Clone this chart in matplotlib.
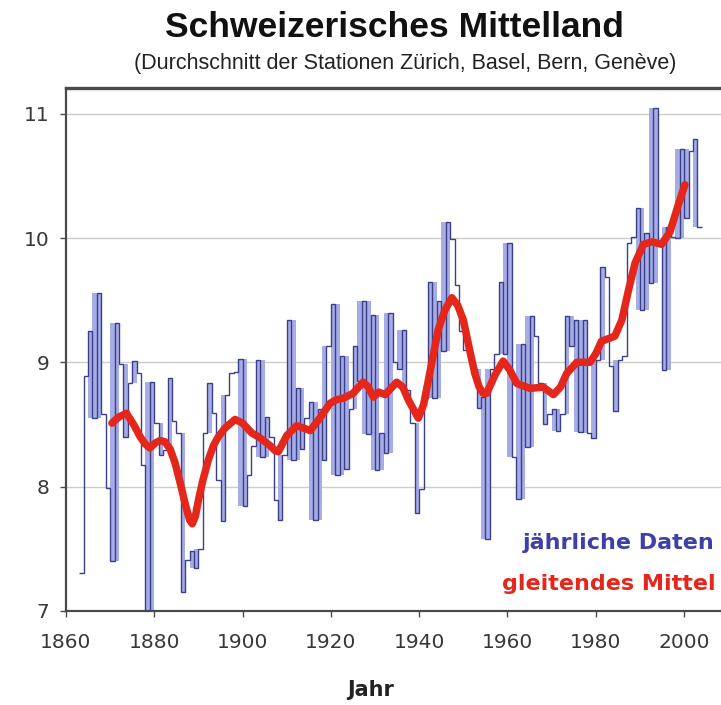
import numpy as np
import matplotlib
matplotlib.use("Agg")
import matplotlib.pyplot as plt

# ---- data -------------------------------------------------------------
years = list(range(1864, 2005))
annual = [
    7.30, 8.89, 9.25, 8.55, 9.56, 8.58, 7.99, 7.40, 9.32, 8.99,   # 1864-1873
    8.40, 8.83, 9.01, 8.91, 8.17, 6.95, 8.84, 8.51, 8.25, 8.29,   # 1874-1883
    8.87, 8.53, 8.43, 7.15, 7.41, 7.48, 7.34, 7.50, 8.43, 8.83,   # 1884-1893
    8.59, 8.05, 7.72, 8.74, 8.91, 8.92, 9.03, 7.84, 8.09, 8.33,   # 1894-1903
    9.02, 8.24, 8.56, 8.40, 7.89, 7.73, 8.25, 9.34, 8.21, 8.79,   # 1904-1913
    8.30, 8.55, 8.68, 7.73, 8.62, 8.21, 9.13, 9.47, 8.09, 9.05,   # 1914-1923
    8.14, 8.62, 9.13, 8.85, 9.49, 8.42, 9.38, 8.13, 8.43, 8.27,   # 1924-1933
    9.40, 9.00, 8.95, 9.26, 8.78, 8.51, 7.79, 7.98, 8.71, 9.65,   # 1934-1943
    8.71, 9.49, 9.09, 10.13, 9.99, 9.62, 9.25, 9.10, 9.05, 8.95,  # 1944-1953
    8.63, 8.72, 7.58, 8.95, 9.07, 9.65, 9.07, 9.96, 8.24, 7.90,   # 1954-1963
    9.15, 8.32, 9.37, 9.21, 8.83, 8.50, 8.58, 8.62, 8.45, 8.58,   # 1964-1973
    9.37, 9.13, 9.34, 8.44, 9.34, 8.43, 8.39, 9.02, 9.77, 9.69,   # 1974-1983
    8.97, 8.61, 9.02, 9.05, 9.96, 10.01, 10.24, 9.42, 10.04, 9.64, # 1984-1993
    11.05, 9.95, 8.94, 10.09, 10.01, 10.00, 10.72, 10.16, 10.70, 10.80,  # 1994-2003
    10.09,                                                          # 2004
]

smooth_x = [
    1870.4, 1872.0, 1873.7, 1875.3, 1876.8, 1878.0, 1879.0, 1880.2, 1881.3, 1882.4,
    1883.6, 1884.7, 1886.0, 1887.0, 1888.0, 1888.6, 1889.3, 1890.0, 1891.0, 1892.2,
    1893.4, 1894.5, 1896.0, 1898.3, 1900.0, 1902.1, 1903.6, 1905.1, 1906.2, 1907.3,
    1908.1, 1910.0, 1912.25, 1913.8, 1915.3, 1917.5, 1919.8, 1921.3, 1922.8, 1925.0,
    1927.3, 1928.5, 1929.6, 1930.8, 1932.3, 1934.9, 1936.3, 1937.5, 1939.8, 1941.0,
    1942.1, 1943.2, 1944.3, 1945.8, 1947.4, 1948.7, 1950.0, 1951.3, 1952.6, 1953.6,
    1954.5, 1955.3, 1957.2, 1959.0, 1960.5, 1962.1, 1965.1, 1968.1, 1970.4, 1972.0,
    1973.4, 1975.7, 1978.7, 1980.0, 1981.3, 1984.3, 1985.9, 1987.4, 1988.9, 1990.8,
    1992.7, 1994.9, 1996.8, 1998.7, 2000.2,
]
smooth_y = [
    8.51, 8.56, 8.59, 8.50, 8.40, 8.34, 8.31, 8.35, 8.37, 8.36,
    8.30, 8.19, 8.01, 7.86, 7.73, 7.70, 7.76, 7.89, 8.05, 8.21,
    8.33, 8.40, 8.47, 8.54, 8.51, 8.43, 8.40, 8.36, 8.33, 8.29,
    8.28, 8.41, 8.49, 8.47, 8.45, 8.55, 8.67, 8.70, 8.71, 8.75,
    8.84, 8.80, 8.72, 8.76, 8.74, 8.84, 8.80, 8.70, 8.55, 8.66,
    8.86, 9.06, 9.26, 9.42, 9.52, 9.46, 9.34, 9.12, 8.91, 8.80,
    8.75, 8.75, 8.90, 9.01, 8.94, 8.83, 8.79, 8.80, 8.74, 8.80,
    8.91, 9.00, 9.00, 9.07, 9.17, 9.21, 9.34, 9.58, 9.80, 9.95,
    9.97, 9.95, 10.05, 10.27, 10.43,
]

x_ticks = [1860, 1880, 1900, 1920, 1940, 1960, 1980, 2000]
y_ticks = [7, 8, 9, 10, 11]

title = "Schweizerisches Mittelland"
subtitle = "(Durchschnitt der Stationen Zürich, Basel, Bern, Genève)"
xlabel = "Jahr"
label_annual = "jährliche Daten"
label_smooth = "gleitendes Mittel"

# ---- styling ----------------------------------------------------------
NAVY = "#3a4088"
FILL = "#a6ace6"
RED = "#e4261b"
LEG_BLUE = "#3d40a6"
GRID = "#cccccc"
SPINE = "#4a4a4a"

W, H = 721, 705
fig = plt.figure(figsize=(W / 100, H / 100), dpi=100)
fig.patch.set_facecolor("white")

left_px, right_px, top_px, bottom_px = 66, 721, 88, 610.7
ax = fig.add_axes([left_px / W, (H - bottom_px) / H,
                   (right_px - left_px) / W, (bottom_px - top_px) / H])

px_per_year = 4.415
px_per_deg = 124.2
ax.set_xlim(1860, 1860 + (right_px - left_px) / px_per_year)
ax.set_ylim(7, 7 + (bottom_px - top_px) / px_per_deg)

# annual data as steps: value of year Y drawn on [Y-1, Y]
edges = np.array([years[0] - 1] + years, dtype=float)
vals = np.array(annual)
n = len(vals)
for i in range(1, n - 1):
    a, b, c = vals[i - 1], vals[i], vals[i + 1]
    if (b > a and b > c) or (b < a and b < c):
        far = a if abs(a - b) > abs(c - b) else c
        ax.fill_between([edges[i], edges[i + 1]], [b, b], [far, far],
                        color=FILL, lw=0, zorder=2)
ax.stairs(vals, edges, color=NAVY, lw=1.0, zorder=3, baseline=None)

# smoothed curve
ax.plot(smooth_x, smooth_y, color=RED, lw=5.4, solid_capstyle="round",
        solid_joinstyle="round", zorder=4)

# axes cosmetics
ax.set_yticks(y_ticks)
ax.set_xticks(x_ticks)
ax.yaxis.grid(True, color=GRID, lw=1.0, zorder=0)
ax.set_axisbelow(True)
for s in ("left", "top", "bottom"):
    ax.spines[s].set_color(SPINE)
ax.spines["left"].set_linewidth(1.6)
ax.spines["bottom"].set_linewidth(1.6)
ax.spines["top"].set_linewidth(2.4)
ax.spines["right"].set_visible(False)
ax.tick_params(axis="both", direction="out", length=4, width=1.0,
               color=SPINE, labelsize=14.5, labelcolor="#383838")
ax.tick_params(axis="x", pad=12)
ax.tick_params(axis="y", pad=8)
for lab in ax.get_xticklabels() + ax.get_yticklabels():
    lab.set_family("DejaVu Sans")

fig.text(371 / W, 1 - 690 / H, xlabel,
         ha="center", va="center", fontsize=15, fontweight="bold",
         family="DejaVu Sans", color="#222222")

fig.text(394 / W, 1 - 37 / H, title, ha="center", va="baseline",
         fontsize=25.5, fontweight="bold", family="Liberation Sans", color="#111111")
fig.text(405 / W, 1 - 69 / H, subtitle, ha="center", va="baseline",
         fontsize=15.5, family="Liberation Sans", color="#222222")

fig.text(714 / W, 1 - 543 / H, label_annual, ha="right", va="center",
         fontsize=16, fontweight="bold", family="DejaVu Sans", color=LEG_BLUE)
fig.text(716 / W, 1 - 584 / H, label_smooth, ha="right", va="center",
         fontsize=16, fontweight="bold", family="DejaVu Sans", color=RED)

fig.savefig("out.png", dpi=100, facecolor="white")
